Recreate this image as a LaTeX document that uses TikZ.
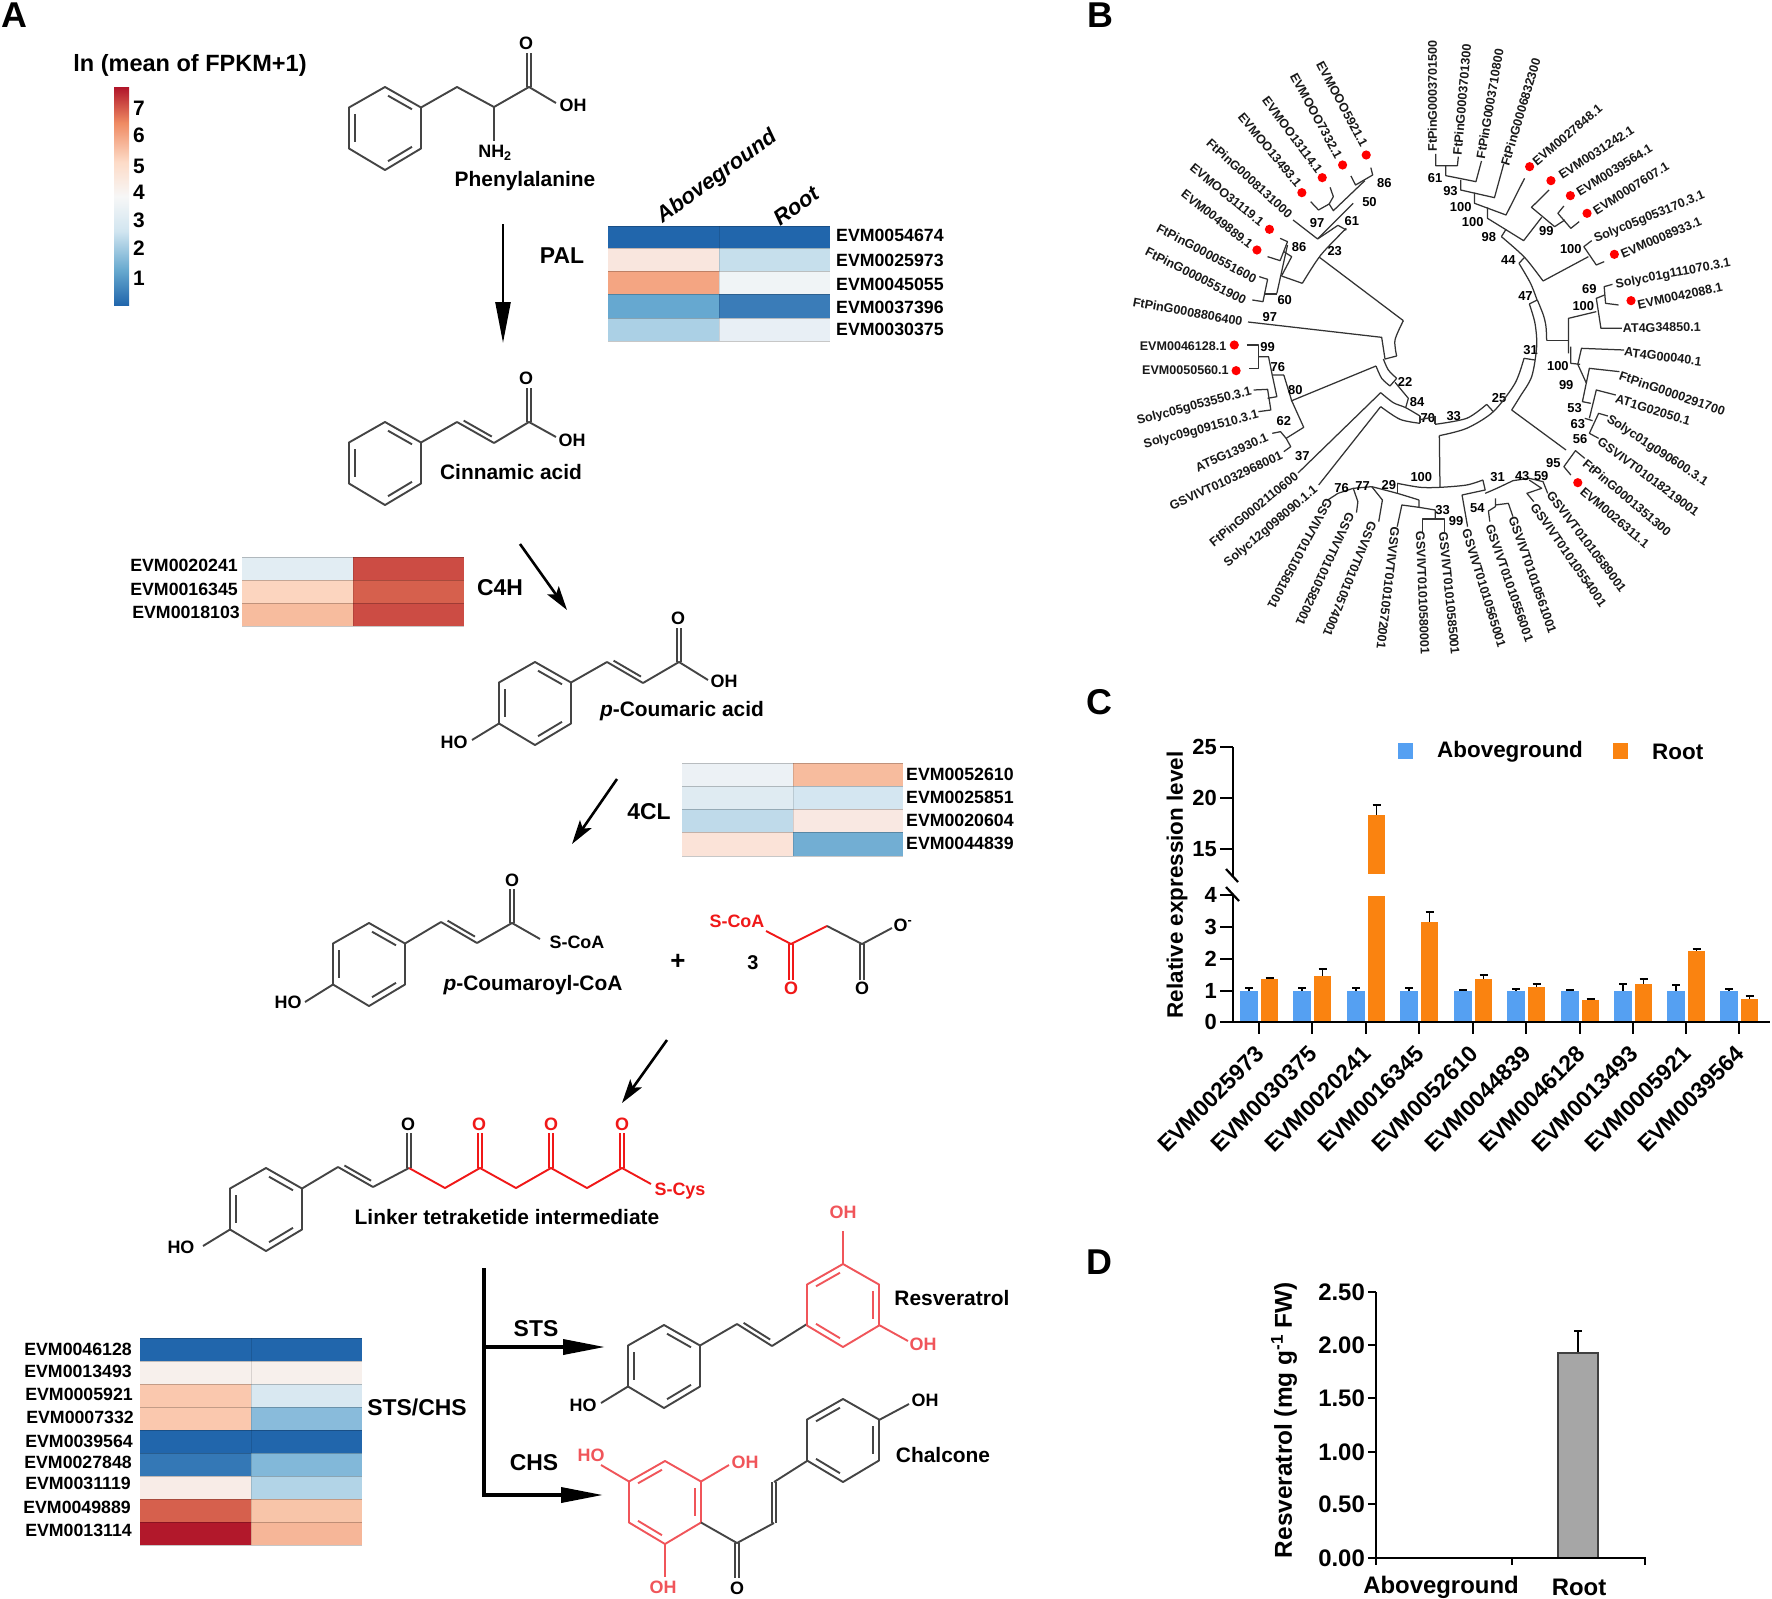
\documentclass[tikz,border=0pt]{standalone}
\usepackage{fontspec}
\setmainfont{Liberation Sans}
\usetikzlibrary{calc,arrows.meta}
\definecolor{bondk}{HTML}{444444}
\definecolor{redk}{HTML}{F01818}
\definecolor{pinkk}{HTML}{F0555A}
\definecolor{cA}{HTML}{2166AC}
\definecolor{cB}{HTML}{67A9CF}
\definecolor{cC}{HTML}{D1E5F0}
\definecolor{cD}{HTML}{F7F7F7}
\definecolor{cE}{HTML}{FDDBC7}
\definecolor{cF}{HTML}{EF8A62}
\definecolor{cG}{HTML}{B2182B}
\definecolor{barb}{HTML}{55A0F2}
\definecolor{baro}{HTML}{FA8310}
\pgfdeclareverticalshading{rdbu}{100bp}{color(0bp)=(cA); color(25bp)=(cA); color(33bp)=(cB); color(42bp)=(cC); color(50bp)=(cD); color(58bp)=(cE); color(67bp)=(cF); color(75bp)=(cG); color(100bp)=(cG)}
\newcommand\fsz[1]{\fontsize{#1}{#1}\selectfont}
\tikzset{
 txt/.style={inner sep=0pt,font=\bfseries\fsz{#1}},
 panel/.style={txt=36},
 enz/.style={txt=23},
 mol/.style={txt=21},
 atomk/.style={txt=18,text=black},
 atomr/.style={txt=18,text=redk},
 atomp/.style={txt=18,text=pinkk},
 gene/.style={txt=17.8},
 tiplbl/.style={txt=12.6,text=black!90},
 bstr/.style={txt=13},
 bond/.style={line width=1.9bp,draw=bondk,line join=round},
 bondr/.style={line width=1.9bp,draw=redk,line join=round},
 bondp/.style={line width=1.9bp,draw=pinkk,line join=round},
 treeln/.style={line width=1.25bp,draw=black!80,line join=round},
 axisln/.style={line width=2.2bp,draw=black},
 errln/.style={line width=1.6bp,draw=black},
 arrthin/.style={line width=2.6bp,-{Stealth[length=24bp,width=14bp,inset=5bp]}},
 arrpal/.style={line width=2.6bp,-{Triangle[length=41bp,width=15bp]}},
 arrbig/.style={line width=3.6bp,-{Triangle[length=42bp,width=15bp]}},
 bracket/.style={line width=3.6bp},
}
% benzene ring: x of apex, y of apex, style, mirror (1 or -1)
\newcommand\benz[4]{%
 \draw[#3] (#1,#2)--(#1+#4*36,#2+20.5)--(#1+#4*36,#2+61.5)--(#1,#2+83)--(#1-#4*36,#2+61.5)--(#1-#4*36,#2+20.5)--cycle;
 \draw[#3] ($(#1,#2+7)!.1!(#1+#4*30,#2+24)$)--($(#1+#4*30,#2+24)!.1!(#1,#2+7)$);
 \draw[#3] ($(#1+#4*30,#2+58)!.1!(#1,#2+76)$)--($(#1,#2+76)!.1!(#1+#4*30,#2+58)$);
 \draw[#3] (#1-#4*30,#2+27)--(#1-#4*30,#2+55);
}
\def\dbl(#1)(#2)#3{\draw[#3] (#1)--(#2); \draw[#3] ($(#1)!.12!(#2)!4.5bp!90:(#2)$)--($(#2)!.12!(#1)!4.5bp!-90:(#1)$);}
\newcommand\vdbl[4]{\draw[#4] (#1-2,#2)--(#1-2,#3); \draw[#4] (#1+2,#2)--(#1+2,#3);}
% heat map row
\newcommand\hrow[7]{%
 \definecolor{hcA}{HTML}{#6}\definecolor{hcB}{HTML}{#7}%
 \fill[hcA] (#1,#4) rectangle (#2,#5);
 \fill[hcB] (#2,#4) rectangle (#3,#5);
 \draw[black,opacity=.12,line width=.6bp] (#2,#4)--(#2,#5);
 \draw[black,opacity=.22,line width=.9bp] (#1,#4)--(#3,#4);
 \draw[black,opacity=.22,line width=.9bp] (#1,#5)--(#3,#5);
}
\newcounter{tipn}
\def\tl(#1,#2)(#3,#4)#5{\stepcounter{tipn}\pgfmathsetmacro\tang{atan2((#2-#4)/3,(#3-#1)*0.46296)}\node[tiplbl,rotate=\tang] (tip\thetipn) at ({(#1+#3)/2},{(#2+#4)/2}) {#5};}
\begin{document}
\begin{tikzpicture}[x=1bp,y=-1bp]
\useasboundingbox (0,0) rectangle (1772,1599);
\fill[white] (0,0) rectangle (1772,1599);
%% panel letters
\node[panel] (pA) at (14,15) {A};
\node[panel] (pB) at (1100,15) {B};
\node[panel] (pC) at (1099,702) {C};
\node[panel] (pD) at (1099,1262) {D};
%% colour key
\node[txt=23.6] (keyt) at (190,65) {ln (mean of FPKM+1)};
\shade[shading=rdbu] (114,88) rectangle (129,305);
\foreach \v/\yy in {7/108,6/135,5/166,4/192,3/220,2/248,1/278}{\node[txt=21] (key\v) at (139,\yy) {\v};}
%% Phenylalanine
\benz{385}{87}{bond}{1}
\draw[bond] (421,107.5)--(457,87)--(494,107)--(529,87)--(556,103);
\draw[bond] (494,107)--(494,141);
\vdbl{529}{87}{53}{bond}
\node[atomk] (o1) at (526,43) {O};
\node[atomk] (oh1) at (573,105) {OH};
\node[atomk] (nh2) at (495,153) {NH\textsubscript{2}};
\node[mol] (m1) at (525,181) {Phenylalanine};
%% PAL
\coordinate (palS) at (503,224); \coordinate (palE) at (503,343);
\draw[arrpal] (palS)--(palE);
\node[enz] (pal) at (562,256) {PAL};
\hrow{608}{719}{830}{226}{248}{2166AC}{2166AC}
\hrow{608}{719}{830}{248}{271}{F9E6DE}{C6DFEC}
\hrow{608}{719}{830}{271}{294}{F4A582}{F0F4F6}
\hrow{608}{719}{830}{294}{318}{66A8D0}{3A7CB8}
\hrow{608}{719}{830}{318}{341}{ABD0E5}{E8EFF5}
\node[txt=22,font=\bfseries\itshape\fsz{22},rotate=36] (ab1) at (717,177) {Aboveground};
\node[txt=22,font=\bfseries\itshape\fsz{22},rotate=36] (rt1) at (796,206) {Root};
\foreach \g/\yy in {EVM0054674/235,EVM0025973/260,EVM0045055/284,EVM0037396/307,EVM0030375/329}{\node[gene,anchor=west] (\g a) at (836,\yy) {\g};}
%% Cinnamic acid
\benz{385}{422}{bond}{1}
\draw[bond] (421,442.5)--(457,422);
\dbl(457,422)(494,443){bond}
\draw[bond] (494,443)--(529,422)--(556,437);
\vdbl{529}{422}{388}{bond}
\node[atomk] (o2) at (526,378) {O};
\node[atomk] (oh2) at (572,440) {OH};
\node[mol] (m2) at (511,472) {Cinnamic acid};
%% C4H
\coordinate (c4S) at (520,544); \coordinate (c4E) at (567,610);
\draw[arrthin] (c4S)--(c4E);
\node[enz] (c4h) at (500,588) {C4H};
\hrow{242}{353}{464}{557}{580}{E2EDF3}{CC4C44}
\hrow{242}{353}{464}{580}{603}{FCD5BF}{D6604D}
\hrow{242}{353}{464}{603}{626}{F7BC9E}{CC4C44}
\node[gene,anchor=east] (g1) at (238,565) {EVM0020241};
\node[gene,anchor=east] (g2) at (238,589) {EVM0016345};
\node[gene,anchor=east] (g3) at (240,612) {EVM0018103};
%% p-Coumaric acid
\benz{535}{662}{bond}{1}
\draw[bond] (571,682.5)--(607,662);
\dbl(607,662)(643,683){bond}
\draw[bond] (643,683)--(679,662)--(708,680);
\vdbl{679}{662}{628}{bond}
\draw[bond] (499,723.5)--(472,740);
\node[atomk] (o3) at (678,618) {O};
\node[atomk] (oh3) at (724,681) {OH};
\node[atomk] (ho3) at (454,742) {HO};
\node[mol] (m3) at (682,711) {{\itshape p}-Coumaric acid};
%% 4CL
\coordinate (clS) at (617,779); \coordinate (clE) at (572,844);
\draw[arrthin] (clS)--(clE);
\node[enz] (cl) at (649,812) {4CL};
\hrow{682}{793}{903}{763}{786}{ECF1F5}{F7BC9E}
\hrow{682}{793}{903}{786}{809}{DFEBF2}{D4E6F1}
\hrow{682}{793}{903}{809}{832}{BFDAEA}{F9E8E2}
\hrow{682}{793}{903}{832}{856}{FBE3D8}{72AED3}
\foreach \g/\yy in {EVM0052610/774,EVM0025851/797,EVM0020604/820,EVM0044839/843}{\node[gene,anchor=west] (\g b) at (906,\yy) {\g};}
%% p-Coumaroyl-CoA
\benz{369}{923}{bond}{1}
\draw[bond] (405,943.5)--(441,922);
\dbl(441,922)(477,943){bond}
\draw[bond] (477,943)--(512,923)--(540,939);
\vdbl{512}{923}{889}{bond}
\draw[bond] (333,984.5)--(305,1002);
\node[atomk] (o4) at (512,880) {O};
\node[atomk] (sc4) at (577,942) {S-CoA};
\node[atomk] (ho4) at (288,1002) {HO};
\node[mol] (m4) at (533,985) {{\itshape p}-Coumaroyl-CoA};
\node[txt=26] (plus) at (678,962) {+};
\node[txt=20] (three) at (753,963) {3};
%% malonyl
\draw[bondr] (766,931)--(791,944)--(827,926);
\draw[bond] (827,926)--(862,944)--(892,928);
\vdbl{791}{944}{980}{bondr}
\vdbl{862}{944}{980}{bond}
\node[atomr] (sc5) at (737,921) {S-CoA};
\node[atomr] (o5) at (791,988) {O};
\node[atomk] (o6) at (862,988) {O};
\node[atomk] (om) at (903,925) {O\textsuperscript{-}};
%% arrow to linker
\coordinate (lkS) at (667,1040); \coordinate (lkE) at (622,1103);
\draw[arrthin] (lkS)--(lkE);
%% Linker tetraketide intermediate
\benz{266}{1168}{bond}{1}
\draw[bond] (302,1188.5)--(338,1167);
\dbl(338,1167)(373,1187){bond}
\draw[bond] (373,1187)--(409,1168);
\draw[bondr] (409,1168)--(445,1188)--(480,1168)--(516,1188)--(551,1168)--(587,1188)--(622,1168)--(651,1184);
\vdbl{409}{1168}{1133}{bond}
\vdbl{480}{1168}{1133}{bondr}
\vdbl{551}{1168}{1133}{bondr}
\vdbl{622}{1168}{1133}{bondr}
\draw[bond] (230,1229.5)--(203,1246);
\node[atomk] (o7) at (408,1124) {O};
\node[atomr] (o8) at (479,1124) {O};
\node[atomr] (o9) at (551,1124) {O};
\node[atomr] (o10) at (622,1124) {O};
\node[atomr] (sc) at (680,1191) {S-Cys};
\node[atomk] (ho7) at (181,1247) {HO};
\node[mol] (m7) at (507,1217) {Linker tetraketide intermediate};
%% branch
\coordinate (brT) at (484,1268); \coordinate (brS) at (484,1347); \coordinate (brC) at (484,1495);
\coordinate (stsE) at (605,1347); \coordinate (chsE) at (603,1495);
\draw[bracket] (brT)--(brC);
\draw[arrbig] (brS)--(stsE);
\draw[arrbig] ($(brC)+(-1.8,0)$)--(chsE);
\node[enz] (sts) at (536,1329) {STS};
\node[enz] (chs) at (534,1463) {CHS};
\node[enz] (stschs) at (417,1407) {STS/CHS};
%% STS/CHS heat map
\hrow{140}{251}{362}{1338}{1361}{2166AC}{2166AC}
\hrow{140}{251}{362}{1361}{1384}{F7F0EC}{F7F0EC}
\hrow{140}{251}{362}{1384}{1407}{FAC8AE}{D9E8F1}
\hrow{140}{251}{362}{1407}{1430}{FAC8AE}{89BBDB}
\hrow{140}{251}{362}{1430}{1453}{2166AC}{2166AC}
\hrow{140}{251}{362}{1453}{1476}{3478B6}{82B8D9}
\hrow{140}{251}{362}{1476}{1499}{F8ECE7}{B2D4E7}
\hrow{140}{251}{362}{1499}{1522}{D6604D}{F8C5A9}
\hrow{140}{251}{362}{1522}{1545}{B2182B}{F6B698}
\foreach \g/\xx/\yy in {EVM0046128/132/1349,EVM0013493/132/1371,EVM0005921/133/1394,EVM0007332/134/1417,EVM0039564/133/1441,EVM0027848/132/1462,EVM0031119/131/1483,EVM0049889/131/1507,EVM0013114/132/1530}{\node[gene,anchor=east] (\g c) at (\xx,\yy) {\g};}
%% Resveratrol
\benz{664}{1325}{bond}{1}
\draw[bond] (700,1345.5)--(737,1324);
\dbl(737,1324)(772,1346){bond}
\draw[bond] (772,1346)--(807,1324);
\benz{843}{1264}{bondp}{-1}
\draw[bondp] (843,1264)--(843,1231);
\draw[bondp] (879,1325)--(908,1341);
\draw[bond] (628,1386.5)--(601,1403);
\node[atomp] (oh8) at (843,1212) {OH};
\node[atomp] (oh9) at (923,1344) {OH};
\node[atomk] (ho8) at (583,1405) {HO};
\node[mol] (m8) at (952,1298) {Resveratrol};
%% Chalcone
\benz{665}{1461}{bondp}{-1}
\draw[bondp] (629,1481.5)--(601,1465);
\draw[bondp] (701,1481.5)--(729,1465);
\draw[bondp] (665,1544)--(665,1577);
\draw[bond] (701,1522.5)--(737,1543)--(774,1523);
\vdbl{737}{1543}{1578}{bond}
\vdbl{774}{1523}{1482}{bond}
\draw[bond] (774,1482)--(807,1461);
\benz{843}{1399}{bond}{-1}
\draw[bond] (879,1420)--(909,1404);
\node[atomp] (ho10) at (591,1455) {HO};
\node[atomp] (oh10) at (745,1462) {OH};
\node[atomp] (oh11) at (663,1587) {OH};
\node[atomk] (o12) at (737,1588) {O};
\node[atomk] (oh12) at (925,1400) {OH};
\node[mol] (m9) at (943,1455) {Chalcone};
%% ===== Panel B tree, upper part
\begin{scope}[shift={(1050,0)},x=0.46296bp,y=-0.33333bp]
\draw[treeln] (833,462)--(833,497)--(880,497)--(882,470);
\draw[treeln] (855,497)--(855,527)--(920,545)--(932,483);
\draw[treeln] (887,540)--(887,570)--(960,593)--(980,492);
\draw[treeln] (917,578)--(917,610)--(985,645)--(1025,535);
\draw[treeln] (945,622)--(945,655)--(1023,722)--(1062,652);
\draw[treeln] (1078,570)--(1040,622)--(1090,680)--(1112,660);
\draw[treeln] (1110,618)--(1097,640)--(1125,685)--(1143,665);
\draw[treeln] (985,688)--(975,710);
\draw[treeln] plot[smooth] coordinates {(975,710)(1025,772)(1065,843)};
\draw[treeln] (1065,843)--(1163,770);
\draw[treeln] (1170,722)--(1153,740)--(1180,795)--(1197,785);
\draw[treeln] (1013,790)--(1025,772);
\draw[treeln] plot[smooth] coordinates {(1013,790)(1038,850)(1052,900)};
\draw[treeln] (1120,1060)--(1120,955)--(1180,935);
\draw[treeln] (1215,853)--(1197,860)--(1200,910)--(1228,915);
\draw[treeln] (1198,885)--(1180,895)--(1190,985)--(1235,985);
% left
\draw[treeln] (650,528)--(660,555)--(697,525)--(693,503);
\draw[treeln] (680,542)--(612,632)--(603,612)--(612,590)--(605,562);
\draw[treeln] (603,612)--(580,630)--(563,605);
\draw[treeln] (655,610)--(578,717)--(525,660);
\draw[treeln] (578,717)--(622,676)--(640,690);
\draw[treeln] plot[smooth] coordinates {(640,685)(585,765)(545,850)};
\draw[treeln] (545,850)--(500,828);
\draw[treeln] (500,828)--(522,770)--(505,755);
\draw[treeln] (497,715)--(513,725)--(497,782)--(470,770);
\draw[treeln] (513,735)--(490,880);
\draw[treeln] (452,830)--(470,838)--(460,905)--(437,900);
\draw[treeln] (465,882)--(490,882);
% dots
\foreach \xx/\yy [count=\i] in {683/465,632/495,588/533,544/578,474/688,447/750,1036/500,1082/542,1124/587,1160/640,1219/763,1255/902}{\fill[red] (\xx,\yy) circle [radius=4.6bp];}
% tips
\tl(826,452)(826,125){FtPinG0003701500}
\tl(880,460)(900,138){FtPinG0003701300}
\tl(930,472)(970,152){FtPinG0003710800}
\tl(983,492)(1050,180){FtPinG0006832300}
\tl(1045,490)(1190,320){EVM0027848.1}
\tl(1100,530)(1260,385){EVM0031242.1}
\tl(1138,580)(1300,440){EVM0039564.1}
\tl(1175,635)(1335,495){EVM0007607.1}
\tl(1175,720)(1415,585){Solyc05g053170.3.1}
\tl(1232,765)(1408,660){EVM0008933.1}
\tl(1222,855)(1470,790){Solyc01g111070.3.1}
\tl(1270,915)(1452,860){EVM0042088.1}
\tl(1238,985)(1405,980){AT4G34850.1}
\tl(180,905)(415,965){FtPinG0008806400}
\tl(205,750)(425,905){FtPinG0000551900}
\tl(230,680)(447,840){FtPinG0000551600}
\tl(285,575)(437,740){EVM0049889.1}
\tl(303,495)(462,675){EVMOO31119.1}
\tl(340,420)(522,650){FtPinG0008131000}
\tl(410,340)(540,560){EVMOO13493.1}
\tl(462,290)(585,520){EVMOO13114.1}
\tl(525,220)(625,475){EVMOOO7332.1}
\tl(582,185)(680,440){EVMOOO5921.1}
\foreach \xx/\yy/\t [count=\i] in {722/548/86,690/605/50,652/662/61,577/668/97,615/752/23,538/740/86,507/900/60,475/950/97,832/535/61,865/573/93,887/620/100,913/665/100,948/710/98,1072/692/99,1125/748/100,990/780/44,1027/887/47,1165/867/69,1152/918/100}{\node[bstr] (bu\i) at (\xx,\yy) {\t};}
\end{scope}
%% ===== Panel B tree, lower part
\begin{scope}[shift={(1050,330)},x=0.46296bp,y=-0.33333bp]
\draw[treeln] (425,45)--(450,45)--(450,115)--(430,115);
\draw[treeln] (450,80)--(472,80)--(480,135)--(505,135);
\draw[treeln] (480,135)--(490,200)--(470,205);
\draw[treeln] (440,180)--(470,178)--(477,240)--(450,245);
\draw[treeln] (505,135)--(522,212)--(548,292)--(510,325);
\draw[treeln] (480,310)--(498,305)--(510,325)--(520,350)--(505,365);
\draw[treeln] (1125,50)--(1125,100)--(1145,103);
\draw[treeln] (1240,60)--(1148,55)--(1140,103)--(1158,158);
\draw[treeln] (1230,125)--(1165,115)--(1150,215)--(1168,220);
\draw[treeln] (1222,195)--(1180,180)--(1165,265);
\draw[treeln] (1155,265)--(1172,272);
\draw[treeln] (1205,258)--(1185,250)--(1165,310)--(1185,325);
\draw[treeln] (1155,385)--(1135,362)--(1110,410)--(1125,435);
\draw[treeln] plot[smooth] coordinates {(750,460)(800,472)(843,472)(900,465)(935,450)};
\draw[treeln] (750,460)--(750,490);
\draw[treeln] plot[smooth] coordinates {(695,470)(750,490)(797,510)};
\draw[treeln] (695,470)--(718,510)--(710,575);
\draw[treeln] (695,470)--(655,475)--(665,515)--(662,548);
\draw[treeln] (655,475)--(622,490)--(600,510);
\draw[treeln] (797,510)--(797,532)--(760,525)--(750,590);
\draw[treeln] (797,532)--(832,540)--(832,565);
\draw[treeln] (805,605)--(805,567)--(852,567)--(852,605);
\draw[treeln] (935,450)--(940,480)--(890,495)--(902,590);
\draw[treeln] plot[smooth] coordinates {(940,490)(965,475)(1000,452)};
\draw[treeln] (962,505)--(962,530)--(947,543)--(950,575);
\draw[treeln] (962,525)--(990,520)--(1000,560);
\draw[treeln] (1000,452)--(1035,445)--(1065,455)--(1075,490);
\draw[treeln] (1035,450)--(1062,475)--(1030,490)--(1045,515);
\foreach \xx/\yy [count=\i] in {398/45,402/122,1140/458}{\fill[red] (\xx,\yy) circle [radius=4.6bp];}
\tl(1240,65)(1408,95){AT4G00040.1}
\tl(1230,135)(1458,245){FtPinG0000291700}
\tl(1222,205)(1383,275){AT1G02050.1}
\tl(1205,265)(1418,460){Solyc01g090600.3.1}
\tl(1187,330)(1398,550){GSVIVT01018219001}
\tl(1155,395)(1338,610){FtPinG0001351300}
\tl(1150,480)(1290,645){EVM0026311.1}
\tl(1080,490)(1238,780){GSVIVT01010589001}
\tl(1045,525)(1195,825){GSVIVT01010554001}
\tl(1000,565)(1085,905){GSVIVT01010561001}
\tl(950,590)(1035,930){GSVIVT01010556001}
\tl(900,605)(975,945){GSVIVT01010565001}
\tl(850,615)(875,965){GSVIVT01010585001}
\tl(800,612)(810,965){GSVIVT01010580001}
\tl(745,600)(715,950){GSVIVT01010572001}
\tl(695,585)(600,910){GSVIVT01010574001}
\tl(648,555)(540,880){GSVIVT01010582001}
\tl(600,515)(480,825){GSVIVT01010581001}
\tl(380,705)(575,475){Solyc12g098090.1.1}
\tl(345,645)(535,430){FtPinG0002110600}
\tl(260,530)(500,375){GSVIVT01032968001}
\tl(315,415)(470,320){AT5G13930.1}
\tl(203,345)(450,255){Solyc09g091510.3.1}
\tl(188,275)(435,185){Solyc05g053550.3.1}
\tl(200,120)(385,120){EVM0050560.1}
\tl(195,48)(380,48){EVM0046128.1}
\foreach \xx/\yy/\t [count=\i] in {1038/60/31,470/52/99,492/110/76,530/180/80,505/273/62,545/377/37,767/155/22,793/215/84,816/265/70,872/257/33,970/205/25,1097/108/100,1115/165/99,1133/235/53,1140/283/63,1145/328/56,1087/398/95,802/442/100,732/465/29,675/468/77,630/473/76,967/442/31,1020/438/43,1061/438/59,848/540/33,877/572/99,923/535/54}{\node[bstr] (bl\i) at (\xx,\yy) {\t};}
\end{scope}
%% ===== centre of the tree
\begin{scope}[shift={(1340,290)},x=0.33333bp,y=-0.33333bp]
\draw[treeln] plot[smooth] coordinates {(592,30)(610,75)(618,110)(620,152)};
\draw[treeln] (620,152)--(684,152);
\draw[treeln] (568,42)--(592,30);
\draw[treeln] plot[smooth] coordinates {(568,42)(585,100)(590,170)(575,260)(540,320)(515,360)};
\draw[treeln] (515,360)--(678,480);
\draw[treeln] (552,205)--(585,210);
\draw[treeln] plot[smooth] coordinates {(552,205)(525,280)(460,365)(380,415)(298,437)};
\draw[treeln] (298,437)--(300,591);
\draw[treeln] (440,343)--(460,365);
\draw[treeln] plot[smooth] coordinates {(285,403)(380,385)(440,343)};
\draw[treeln] plot[smooth] coordinates {(130,207)(145,240)(170,265)};
\draw[treeln] plot[smooth] coordinates {(108,228)(125,265)(150,288)};
\draw[treeln] (150,288)--(170,265);
\draw[treeln] (165,277)--(205,325)--(197,353);
\draw[treeln] plot[smooth] coordinates {(122,308)(160,338)(197,353)(240,378)};
\draw[treeln] plot[smooth] coordinates {(122,350)(180,388)(240,400)};
\draw[treeln] (240,378)--(240,400);
\draw[treeln] (240,389)--(285,380);
\draw[treeln] (285,378)--(285,403);
\draw[treeln] (-276,96)--(125,142)--(135,207)--(170,198);
\draw[treeln] plot[smooth] coordinates {(170,198)(165,150)(190,92)};
\draw[treeln] (190,92)--(-63,-99);
\draw[treeln] (108,228)--(-147,333);
\draw[treeln] (122,308)--(-126,549);
\draw[treeln] (122,350)--(-64,585);
\end{scope}
%% ===== Panel C
\node[txt=22.5,rotate=90] (cyl) at (1177,885) {Relative expression level};
\draw[axisln] (1233,747)--(1233,877);
\draw[axisln] (1233,896)--(1233,1022);
\draw[axisln] (1226,869)--(1238,882);
\draw[axisln] (1226,887)--(1239,901);
\draw[axisln] (1220,1022)--(1770,1022);
\foreach \t/\yy in {25/747,20/798,15/849,4/895,3/927,2/959,1/991,0/1022}{\draw[axisln] (1220,\yy)--(1233,\yy); \node[txt=22,anchor=east] (cy\t) at (1217,\yy) {\t};}
\fill[barb] (1398,743) rectangle (1413,759);
\node[txt=22.5,anchor=west] (lga) at (1437,752) {Aboveground};
\fill[baro] (1613,743) rectangle (1628,759);
\node[txt=22.5,anchor=west] (lgr) at (1652,752) {Root};
\foreach \g/\tx/\be/\ot/\oe in {EVM0025973/1259/988/979/978,EVM0030375/1312/988/976/969,EVM0020241/1366/988/896/1000,EVM0016345/1419/988/922/912,EVM0052610/1473/990/979/975,EVM0044839/1526/989/987/984,EVM0046128/1580/990/1000/999,EVM0013493/1633/984/984/979,EVM0005921/1686/985/951/949,EVM0039564/1739/989/999/996}{
 \draw[errln] (\tx-10,991)--(\tx-10,\be) (\tx-14,\be)--(\tx-6,\be);
 \draw[errln] (\tx+10.5,\ot)--(\tx+10.5,\oe) (\tx+6.5,\oe)--(\tx+14.5,\oe);
 \fill[barb] (\tx-18.6,991) rectangle (\tx-1.2,1021);
 \fill[baro] (\tx+1.9,\ot) rectangle (\tx+19,1021);
 \draw[axisln] (\tx,1022)--(\tx,1034);
 \node[txt=23,font=\bfseries\fsz{23},rotate=45,anchor=east] (cx\g) at (\tx+1,1050) {\g};
}
\draw[errln] (1376.5,815)--(1376.5,805) (1372.5,805)--(1380.5,805);
\fill[baro] (1367.9,815) rectangle (1385,874);
%% ===== Panel D
\node[txt=24.5,rotate=90] (dyl) at (1284,1420) {Resveratrol (mg g\textsuperscript{-1} FW)};
\draw[line width=1.6bp] (1578,1353)--(1578,1331) (1574,1331)--(1582,1331);
\fill[black!35,draw=black!75,line width=1.2bp] (1558,1558) rectangle (1598,1353);
\draw[axisln] (1376,1292)--(1376,1565);
\draw[axisln] (1376,1558)--(1645,1558)--(1645,1565);
\draw[axisln] (1512,1558)--(1512,1565);
\foreach \t/\yy in {2.50/1292,2.00/1345,1.50/1398,1.00/1452,0.50/1504,0.00/1558}{\draw[axisln] (1368,\yy)--(1376,\yy); \node[txt=24,anchor=east] (dy\t) at (1365,\yy) {\t};}
\node[txt=24] (dxa) at (1441,1587) {Aboveground};
\node[txt=24] (dxr) at (1579,1587) {Root};
\end{tikzpicture}
\end{document}
